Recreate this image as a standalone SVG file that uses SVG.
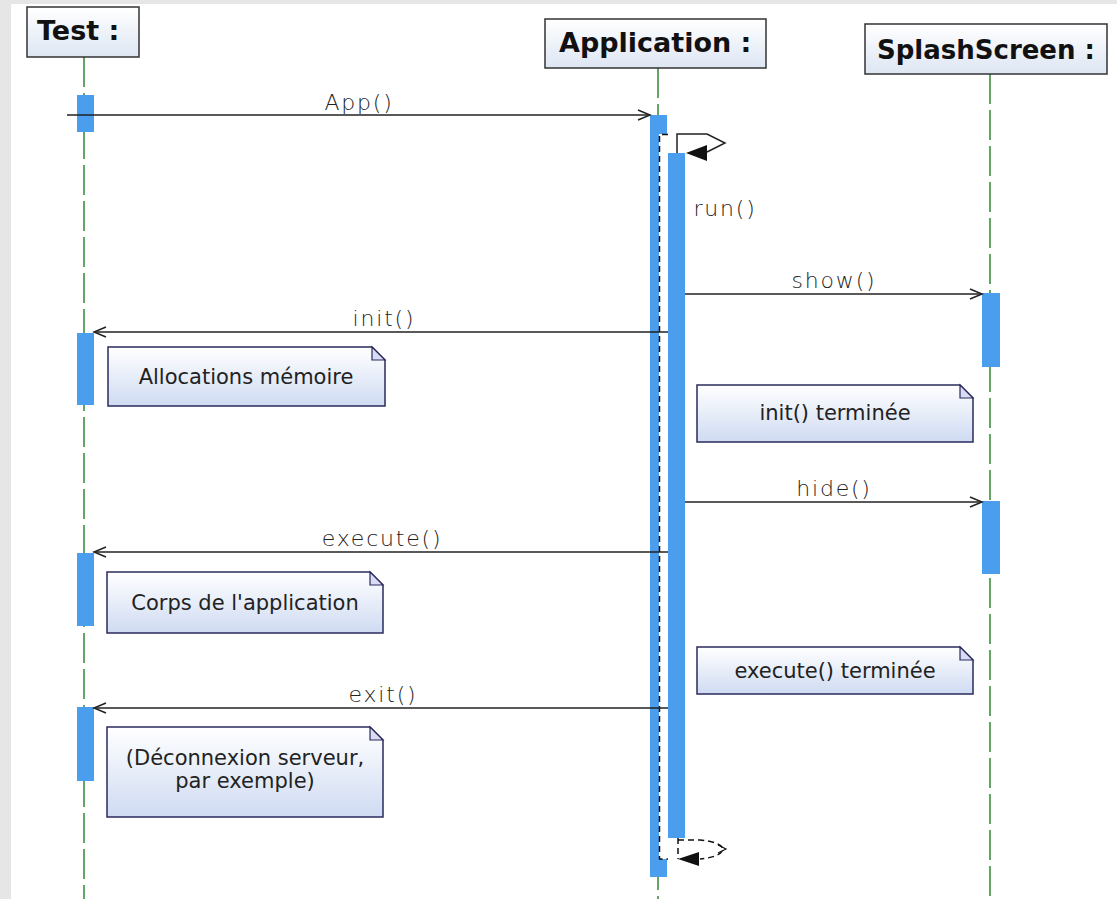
<svg xmlns="http://www.w3.org/2000/svg" width="1117" height="899" viewBox="0 0 1117 899">
<defs>
<linearGradient id="gHdr" x1="0" y1="0" x2="0" y2="1">
<stop offset="0" stop-color="#ffffff"/>
<stop offset="1" stop-color="#dde6f3"/>
</linearGradient>
<linearGradient id="gNote" x1="0" y1="0" x2="0" y2="1">
<stop offset="0" stop-color="#ffffff"/>
<stop offset="1" stop-color="#cfdbf2"/>
</linearGradient>
<marker id="open" markerUnits="userSpaceOnUse" markerWidth="16" markerHeight="14" refX="13" refY="6" orient="auto">
<path d="M1,1 L13,6 L1,11" fill="none" stroke="#222" stroke-width="1.5"/>
</marker>
<style>
.hdr{font-family:"DejaVu Sans","Liberation Sans",sans-serif;font-weight:bold;font-size:27px;fill:#111}
.box{fill:url(#gHdr);stroke:#333;stroke-width:1.5}
.life{stroke:#3f8f3f;stroke-width:1.6;stroke-dasharray:30 6;fill:none}
.bar{fill:#4b9ded}
.msg{stroke:#222;stroke-width:1.5;fill:none}
.lbl{font-family:"DejaVu Sans","Liberation Sans",sans-serif;font-weight:200;font-size:22px;letter-spacing:1.8px;fill:#222;text-anchor:middle}
.note{fill:url(#gNote);stroke:#2b2b5e;stroke-width:1.5}
.fold{fill:#d9dcf4;stroke:#2b2b5e;stroke-width:1.2}
.ntxt{font-family:"DejaVu Sans","Liberation Sans",sans-serif;font-size:21px;fill:#222;text-anchor:middle}
.dash{stroke:#111;stroke-width:1.5;stroke-dasharray:6 4;fill:none}
</style>
</defs>
<rect x="0" y="0" width="1117" height="899" fill="#e6e6e6"/>
<rect x="11" y="4" width="1106" height="895" fill="#ffffff"/>

<g id="lifeline-test">
<line class="life" x1="84" y1="57" x2="84" y2="899"/>
<rect class="box" x="27" y="7" width="112" height="50"/>
<text class="hdr" x="37" y="40">Test :</text>
<rect class="bar" x="77" y="95" width="17" height="37"/>
<rect class="bar" x="77" y="333" width="17" height="72"/>
<rect class="bar" x="77" y="553" width="17" height="73"/>
<rect class="bar" x="77" y="707" width="17" height="74"/>
</g>

<g id="lifeline-application">
<line class="life" x1="658" y1="68" x2="658" y2="899"/>
<rect class="box" x="545" y="19" width="221" height="49"/>
<text class="hdr" x="559" y="52">Application :</text>
<rect class="bar" x="650" y="115" width="17" height="762"/>
<rect x="659" y="134" width="9" height="725" fill="#ffffff"/>
<path class="dash" d="M668,134.5 H659.5 V859 H668"/>
<rect class="bar" x="668" y="153" width="17" height="685"/>
</g>

<g id="lifeline-splashscreen">
<line class="life" x1="990" y1="74" x2="990" y2="899"/>
<rect class="box" x="865" y="24" width="242" height="50"/>
<text class="hdr" x="877" y="59" style="font-size:26px">SplashScreen :</text>
<rect class="bar" x="982" y="293" width="18" height="74"/>
<rect class="bar" x="982" y="501" width="18" height="73"/>
</g>

<g id="connectors">
<line class="msg" x1="67" y1="115" x2="650" y2="115" marker-end="url(#open)"/>
<text class="lbl" x="359" y="110">App()</text>

<path class="msg" d="M677,153 V134 H707 L725,143 L707,152"/>
<polygon points="686,153 707,145 707,161" fill="#111"/>
<text class="lbl" x="725" y="216">run()</text>

<line class="msg" x1="685" y1="294" x2="982" y2="294" marker-end="url(#open)"/>
<text class="lbl" x="834" y="288">show()</text>

<line class="msg" x1="668" y1="332" x2="94" y2="332" marker-end="url(#open)"/>
<text class="lbl" x="384" y="326">init()</text>

<line class="msg" x1="685" y1="502" x2="982" y2="502" marker-end="url(#open)"/>
<text class="lbl" x="834" y="496">hide()</text>

<line class="msg" x1="668" y1="552" x2="94" y2="552" marker-end="url(#open)"/>
<text class="lbl" x="382" y="546">execute()</text>

<line class="msg" x1="668" y1="708" x2="94" y2="708" marker-end="url(#open)"/>
<text class="lbl" x="383" y="702">exit()</text>

<path class="dash" d="M678,838 V859 M678,840 H700 Q721,842 723,849 Q721,857 700,859"/>
<path d="M718,845 L726,849 L718,853" fill="none" stroke="#111" stroke-width="1.2"/>
<polygon points="678,859 699,852 699,866" fill="#111"/>
</g>

<g id="note-allocations">
<path class="note" d="M108,347 H372 L385,360 V406 H108 Z"/>
<path class="fold" d="M372,347 V360 H385 Z"/>
<text class="ntxt" x="246" y="384">Allocations mémoire</text>
</g>

<g id="note-init-terminee">
<path class="note" d="M697,385 H960 L973,398 V442 H697 Z"/>
<path class="fold" d="M960,385 V398 H973 Z"/>
<text class="ntxt" x="835" y="420">init() terminée</text>
</g>

<g id="note-corps">
<path class="note" d="M107,572 H370 L383,585 V633 H107 Z"/>
<path class="fold" d="M370,572 V585 H383 Z"/>
<text class="ntxt" x="245" y="610">Corps de l'application</text>
</g>

<g id="note-execute-terminee">
<path class="note" d="M697,647 H960 L973,660 V694 H697 Z"/>
<path class="fold" d="M960,647 V660 H973 Z"/>
<text class="ntxt" x="835" y="678">execute() terminée</text>
</g>

<g id="note-deconnexion">
<path class="note" d="M107,727 H370 L383,740 V817 H107 Z"/>
<path class="fold" d="M370,727 V740 H383 Z"/>
<text class="ntxt" x="245" y="765">(Déconnexion serveur,</text>
<text class="ntxt" x="245" y="788">par exemple)</text>
</g>
</svg>
